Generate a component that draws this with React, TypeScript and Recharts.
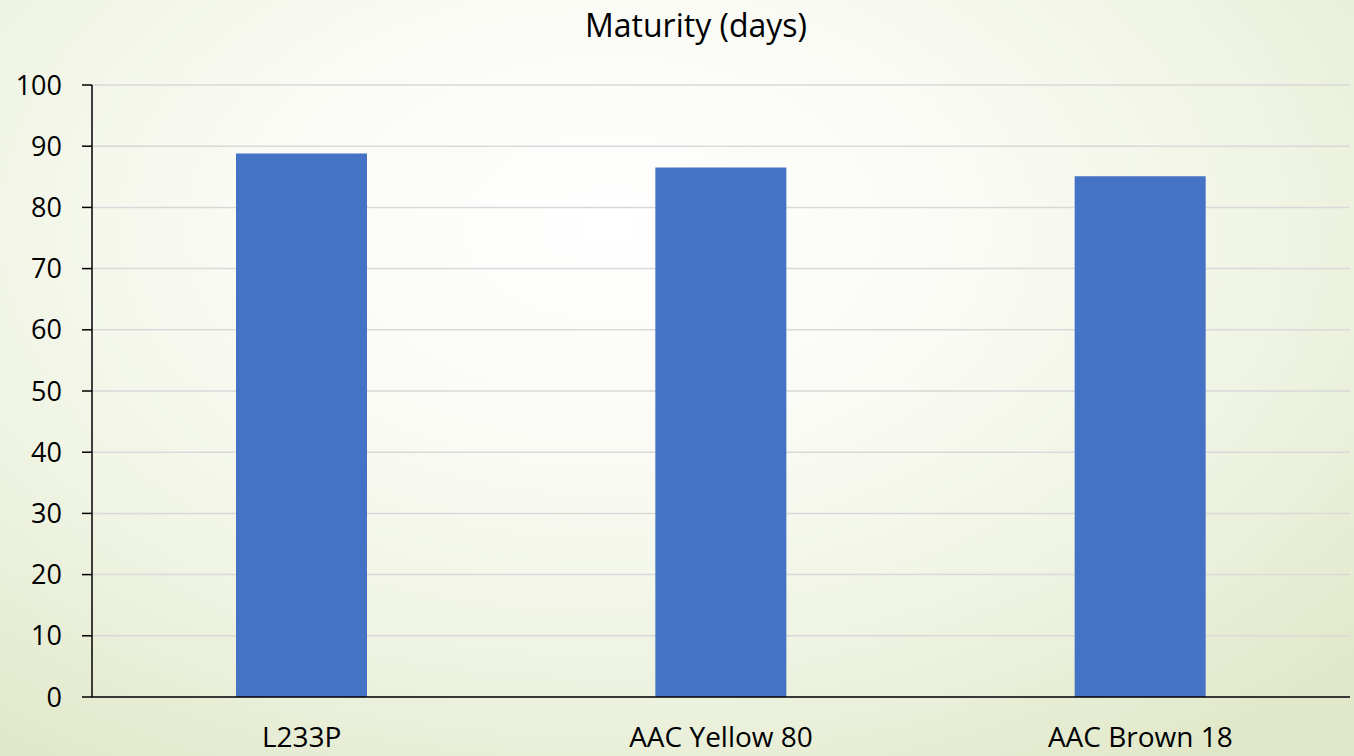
import React from 'react';
import { BarChart, Bar, XAxis, YAxis, CartesianGrid } from 'recharts';

const varieties = ['L233P', 'AAC Yellow 80', 'AAC Brown 18'];
const maturityDays = [88.8, 86.5, 85.1];
const yTicks = [0, 10, 20, 30, 40, 50, 60, 70, 80, 90, 100];

const data = varieties.map((name, i) => ({ name, days: maturityDays[i] }));

const font = '"Open Sans", sans-serif';

const App: React.FC = () => {
  return (
    <div
      style={{
        position: 'relative',
        width: 1354,
        height: 756,
        overflow: 'hidden',
        fontFamily: font,
        background:
          'radial-gradient(ellipse 75% 85% at 45% 30%, #ffffff 0%, #fafbf5 35%, #eef3e1 70%, #e1e8c9 100%)',
      }}
    >
      <style>{'body { margin: 0; }'}</style>
      <div
        style={{
          position: 'absolute',
          top: 3,
          left: 0,
          width: 1392,
          textAlign: 'center',
          fontSize: 32,
          color: '#000',
        }}
      >
        Maturity (days)
      </div>
      <BarChart
        width={1354}
        height={756}
        data={data}
        margin={{ top: 85, right: 4, bottom: 0, left: 0 }}
        style={{ position: 'absolute', top: 0, left: 0 }}
      >
        <CartesianGrid vertical={false} stroke="#d9d9d9" strokeWidth={1.5} />
        <XAxis
          dataKey="name"
          axisLine={{ stroke: '#000', strokeWidth: 1.5 }}
          tickLine={false}
          tickSize={0}
          tickMargin={30}
          height={59}
          tick={{ fill: '#000', fontSize: 28, fontFamily: font }}
        />
        <YAxis
          domain={[0, 100]}
          ticks={yTicks}
          interval={0}
          width={92}
          axisLine={{ stroke: '#000', strokeWidth: 1.5 }}
          tickLine={{ stroke: '#000', strokeWidth: 1.5 }}
          tickSize={10}
          tickMargin={20}
          tick={{ fill: '#000', fontSize: 27, fontFamily: font }}
        />
        <Bar dataKey="days" fill="#4472c4" barSize={131} isAnimationActive={false} />
      </BarChart>
    </div>
  );
};

export default App;
